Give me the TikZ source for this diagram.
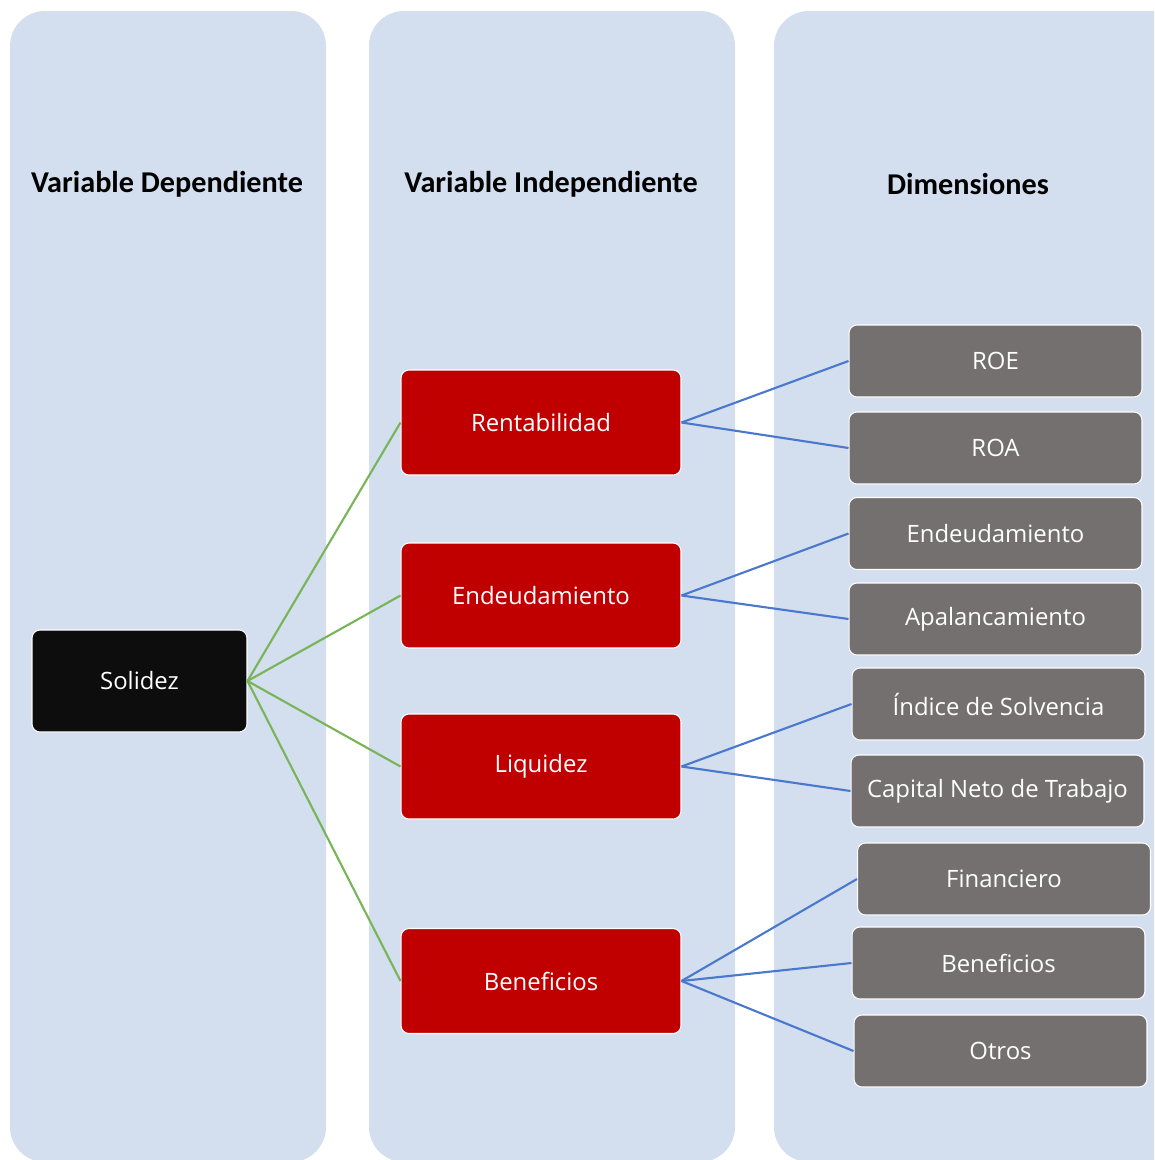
\documentclass[tikz,border=0pt]{standalone}
\usepackage{fontspec}
\setmainfont{Carlito}
\newfontfamily\boxfont{Open Sans}
\usepackage{tikz}

\definecolor{colbg}{HTML}{D3DEEF}
\definecolor{rootblack}{HTML}{0D0D0D}
\definecolor{varred}{HTML}{C00000}
\definecolor{dimgray}{HTML}{757070}
\definecolor{linkgreen}{HTML}{78B458}
\definecolor{linkblue}{HTML}{4A78CC}

\begin{document}
\begin{tikzpicture}[
    x=0.02cm,y=-0.02cm,
    column/.style={fill=colbg, rounded corners=0.7cm},
    head/.style={font=\fontsize{17.2}{20}\selectfont\bfseries},
    box/.style={rounded corners=0.16cm, draw=white, line width=0.6pt, text=white,
        font=\boxfont\fontsize{13.6}{16}\selectfont, inner sep=0pt},
    rootbox/.style={box, fill=rootblack, minimum width=4.3cm, minimum height=2.04cm},
    varbox/.style={box, fill=varred, minimum width=5.6cm, minimum height=2.1cm},
    dimbox/.style={box, fill=dimgray, minimum width=5.86cm, minimum height=1.44cm},
    glink/.style={line width=1.2pt, linkgreen},
    blink/.style={line width=1.2pt, linkblue}
    ]
    \useasboundingbox (0, 0) rectangle (1154, 1160);
    \clip (0, 0) rectangle (1154, 1160);
    % columns
    \fill[column] (10, 11) rectangle (326, 1162);
    \fill[column] (369, 11) rectangle (735, 1162);
    \fill[column] (774, 11) rectangle (1190, 1162);
    \node[head] (hdep) at (167, 184) {Variable Dependiente};
    \node[head] (hind) at (551, 184) {Variable Independiente};
    \node[head] (hdim) at (968, 184) {Dimensiones};
    % dependiente
    \node[rootbox] (solidez) at (139.5, 681) {Solidez};
    % independientes
    \node[varbox] (rent) at (541, 422.5) {Rentabilidad};
    \node[varbox] (endeu) at (541, 595.5) {Endeudamiento};
    \node[varbox] (liqui) at (541, 766.5) {Liquidez};
    \node[varbox] (benef) at (541, 981) {Beneficios};
    % dimensiones
    \node[dimbox] (roe) at (995.5, 361) {ROE};
    \node[dimbox] (roa) at (995.5, 448) {ROA};
    \node[dimbox] (dend) at (995.5, 533.5) {Endeudamiento};
    \node[dimbox] (apal) at (995.5, 619) {Apalancamiento};
    \node[dimbox] (solv) at (998.5, 704) {Índice de Solvencia};
    \node[dimbox] (cntr) at (997.5, 791) {Capital Neto de Trabajo};
    \node[dimbox] (fina) at (1004, 879) {Financiero};
    \node[dimbox] (dben) at (998.5, 963) {Beneficios};
    \node[dimbox] (otro) at (1000.5, 1051) {Otros};
    % links
    \foreach \v in {rent, endeu, liqui, benef}
        \draw[glink] (solidez.east) -- (\v.west);
    \draw[blink] (rent.east) -- (roe.west);
    \draw[blink] (rent.east) -- (roa.west);
    \draw[blink] (endeu.east) -- (dend.west);
    \draw[blink] (endeu.east) -- (apal.west);
    \draw[blink] (liqui.east) -- (solv.west);
    \draw[blink] (liqui.east) -- (cntr.west);
    \draw[blink] (benef.east) -- (fina.west);
    \draw[blink] (benef.east) -- (dben.west);
    \draw[blink] (benef.east) -- (otro.west);
\end{tikzpicture}
\end{document}
